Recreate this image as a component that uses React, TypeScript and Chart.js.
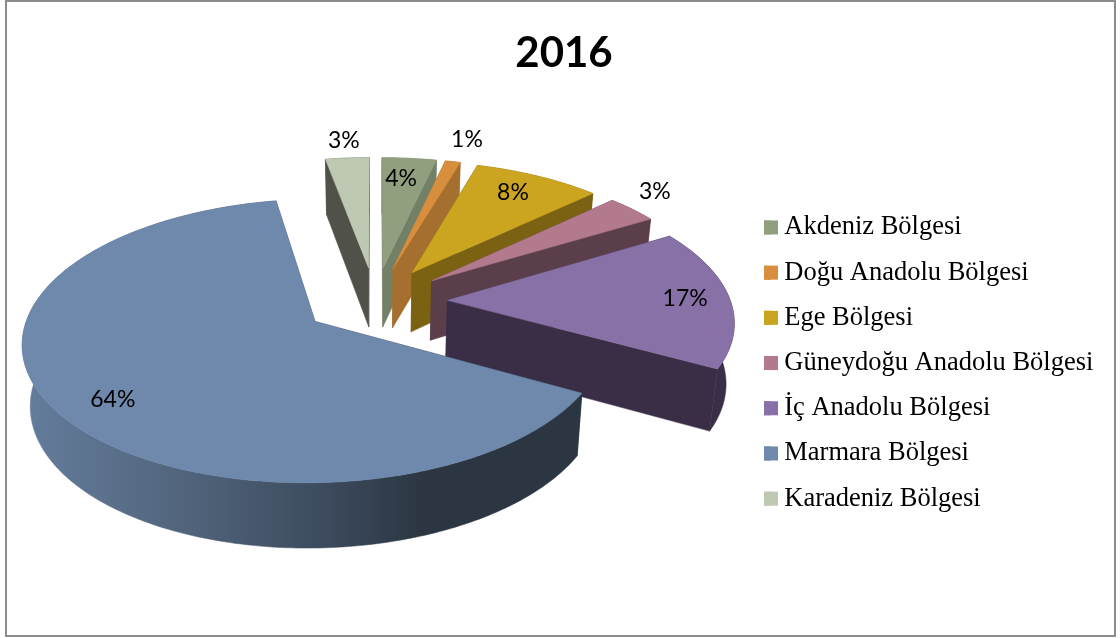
import React, { useEffect, useRef } from "react";
import { Chart, registerables } from "chart.js";

Chart.register(...registerables);

const chartTitle = "2016";
const regions = [
  "Akdeniz Bölgesi",
  "Doğu Anadolu Bölgesi",
  "Ege Bölgesi",
  "Güneydoğu Anadolu Bölgesi",
  "İç Anadolu Bölgesi",
  "Marmara Bölgesi",
  "Karadeniz Bölgesi",
];
const shares = [3.6, 1.0, 8.4, 3.4, 16.6, 64.1, 2.9];
const topColors = ["#919f7f", "#d78f3e", "#cba51f", "#b37a8e", "#8771a6", "#6f89ac", "#bfc8b2"];
const wallColors = ["#738068", "#a5702f", "#7a6212", "#5a3f4a", "#3a2d46", "#2c3642", "#50524a"];
const labelRadii = [0.8, 1.235, 0.804, 1.19, 0.843, 0.82, 1.188];
const labelTurnDeg = [-1, 0.4, -0.8, -3.2, 0, -3.4, 0];
const paintOrder = [6, 0, 1, 2, 3, 4, 5];

const CX = 375, CY = 301, R = 283, TILT = 0.472, PERSP = 0.135, DEPTH = 60, EXPLODE = 0.256;

type P = [number, number];
const project = (X: number, Y: number): P => {
  const w = 1 - PERSP * Y;
  return [CX + (R * X) / w, CY + (R * TILT * Y) / w];
};
const drop = (X: number, Y: number): P => {
  const w = 1 - PERSP * Y;
  const [sx, sy] = project(X, Y);
  return [CX + (sx - CX) * 0.977, sy + DEPTH / Math.sqrt(w)];
};

const pie3d = {
  id: "pie3d",
  beforeDatasetsDraw(chart: any) {
    const ctx = chart.ctx as CanvasRenderingContext2D;
    const arcs = chart.getDatasetMeta(0).data;
    const info = arcs.map((a: any) => {
      const s = a.startAngle + Math.PI / 2;
      const e = a.endAngle + Math.PI / 2;
      const m = (s + e) / 2;
      return { s, e, m, ox: EXPLODE * Math.sin(m), oy: -EXPLODE * Math.cos(m) };
    });
    const fillPoly = (pts: P[], fill: any) => {
      ctx.beginPath();
      pts.forEach((p, i) => (i ? ctx.lineTo(p[0], p[1]) : ctx.moveTo(p[0], p[1])));
      ctx.closePath();
      ctx.fillStyle = fill;
      ctx.fill();
      ctx.strokeStyle = fill;
      ctx.lineWidth = 0.5;
      ctx.stroke();
    };
    for (const i of paintOrder) {
      const { s, e, ox, oy } = info[i];
      const plane: P[] = [];
      const n = Math.max(8, Math.ceil(((e - s) * 180) / Math.PI));
      for (let k = 0; k <= n; k++) {
        const t = s + ((e - s) * k) / n;
        plane.push([ox + Math.sin(t), oy - Math.cos(t)]);
      }
      let wall: any = wallColors[i];
      if (i === 5) {
        const g = ctx.createLinearGradient(25, 0, 580, 0);
        g.addColorStop(0, "#647d9c");
        g.addColorStop(0.32, "#4f6178");
        g.addColorStop(0.5, "#3f4f63");
        g.addColorStop(0.72, "#2c3642");
        g.addColorStop(1, "#2c3642");
        wall = g;
      }
      const first = plane[0];
      const last = plane[plane.length - 1];
      fillPoly([project(ox, oy), project(first[0], first[1]), drop(first[0], first[1]), drop(ox, oy)], wall);
      fillPoly([project(ox, oy), project(last[0], last[1]), drop(last[0], last[1]), drop(ox, oy)], wall);
      fillPoly(
        [...plane.map((p) => project(p[0], p[1])), ...plane.slice().reverse().map((p) => drop(p[0], p[1]))],
        wall
      );
      fillPoly([project(ox, oy), ...plane.map((p) => project(p[0], p[1]))], topColors[i]);
    }
    ctx.save();
    ctx.font = "23px Lato";
    ctx.fillStyle = "#000";
    ctx.textAlign = "center";
    ctx.textBaseline = "middle";
    const total = shares.reduce((a, b) => a + b, 0);
    info.forEach((d: any, i: number) => {
      const ang = d.m + (labelTurnDeg[i] * Math.PI) / 180;
      const [x, y] = project(
        d.ox + labelRadii[i] * Math.sin(ang),
        d.oy - labelRadii[i] * Math.cos(ang)
      );
      ctx.fillText(`${Math.round((shares[i] / total) * 100)}%`, x, y);
    });
    ctx.restore();
    return false;
  },
  afterLayout(chart: any) {
    const lg = chart.legend;
    const w = lg.right - lg.left;
    const h = lg.bottom - lg.top;
    lg.left = 764 - lg.options.labels.padding;
    lg.right = lg.left + w;
    lg.top = 195.5;
    lg.bottom = lg.top + h;
    if (lg.adjustHitBoxes) lg.adjustHitBoxes();
    const tb = chart.titleBlock;
    tb.left += 4;
    tb.right += 4;
  },
  afterDraw(chart: any) {
    const ctx = chart.ctx as CanvasRenderingContext2D;
    const lg = chart.legend;
    const pad = lg.options.labels.padding;
    const size = lg.options.labels.font.size;
    regions.forEach((_, i) => {
      ctx.fillStyle = topColors[i];
      const cy = lg.top + pad + i * (size + pad) + size / 2;
      ctx.fillRect(lg.left + pad, cy - 7, 14, 14);
    });
    ctx.strokeStyle = "#8c8c8c";
    ctx.lineWidth = 2;
    ctx.strokeRect(6, 1, 1109, 635);
  },
};

export default function App() {
  const ref = useRef<HTMLCanvasElement>(null);
  useEffect(() => {
    document.body.style.margin = "0";
    const chart = new Chart(ref.current!, {
      type: "pie",
      data: {
        labels: regions,
        datasets: [{ data: shares, backgroundColor: topColors, borderWidth: 0 }],
      },
      options: {
        responsive: false,
        animation: false,
        layout: { padding: 0 },
        plugins: {
          tooltip: { enabled: false },
          title: {
            display: true,
            text: chartTitle,
            color: "#000",
            font: { family: "Lato", size: 42, weight: "bold", lineHeight: 1.2 },
            padding: { top: 28, bottom: 10 },
          },
          legend: {
            position: "right",
            align: "start",
            labels: {
              color: "#000",
              font: { family: "'Liberation Serif'", size: 26.5, lineHeight: 1.15 },
              boxWidth: 7,
              boxHeight: 14,
              padding: 18.7,
            },
          },
        },
      },
      plugins: [pie3d],
    } as any);
    return () => chart.destroy();
  }, []);
  return (
    <div style={{ position: "absolute", left: 0, top: 0, width: 1120, height: 638, background: "#fff" }}>
      <canvas ref={ref} width={1120} height={638} style={{ display: "block" }} />
    </div>
  );
}
